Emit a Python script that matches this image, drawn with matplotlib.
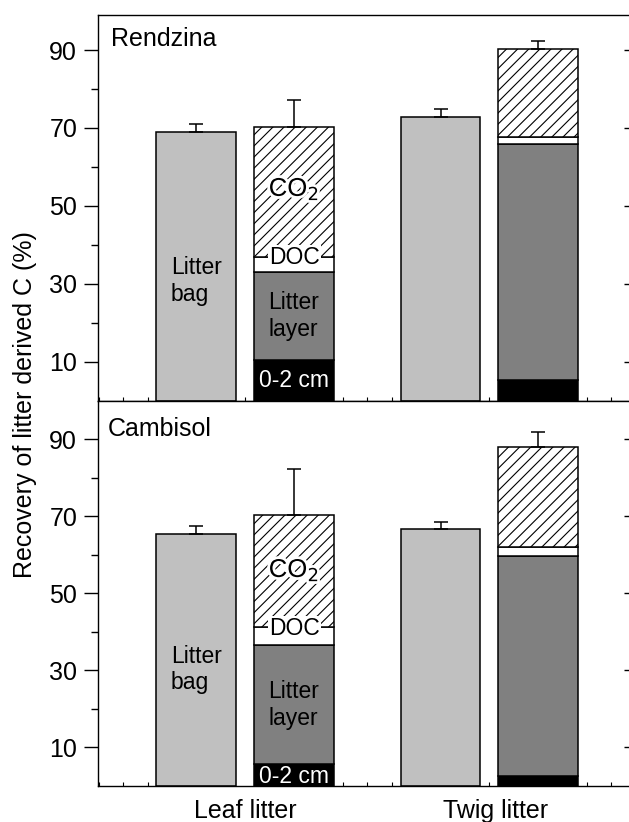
import matplotlib
matplotlib.use("Agg")
import matplotlib.pyplot as plt
import matplotlib.patheffects as pe
from matplotlib.ticker import MultipleLocator, FixedLocator
import numpy as np

plt.rcParams['font.family'] = ['Liberation Sans', 'DejaVu Sans']
plt.rcParams['hatch.linewidth'] = 0.8

# ---------------- data ----------------
litter_types = ['Leaf litter', 'Twig litter']
soils = ['Rendzina', 'Cambisol']

# litter bag recovery (%)
rendzina_bag = [69.0, 72.7]
rendzina_bag_err = [2.0, 2.1]
cambisol_bag = [65.5, 66.6]
cambisol_bag_err = [2.0, 1.9]

# stacked components (segment heights, %)
rendzina_soil = [10.4, 5.3]      # 0-2 cm
rendzina_layer = [22.7, 60.7]    # litter layer
rendzina_doc = [3.9, 1.8]        # DOC
rendzina_co2 = [33.3, 22.4]      # CO2
rendzina_total_err = [6.9, 2.2]

cambisol_soil = [5.7, 2.65]
cambisol_layer = [31.0, 57.0]
cambisol_doc = [4.5, 2.4]
cambisol_co2 = [29.1, 26.0]
cambisol_total_err = [12.0, 3.9]

yticks_major = [10, 30, 50, 70, 90]
yticks_minor = [20, 40, 60, 80]

# ---------------- figure ----------------
W, H = 629, 822
fig = plt.figure(figsize=(W / 100, H / 100), dpi=100)

left = 98 / W
right = 631 / W
ax_top = fig.add_axes([left, 1 - 400.7 / H, right - left, 385.7 / H])
ax_bot = fig.add_axes([left, 1 - 786 / H, right - left, 385.3 / H])

centers = np.array([1.0, 2.0])
off = 0.2
width = 0.327

label_fs = 16.5
axis_fs = 18

# label positions (y, data units) for [top, bottom] panel
pos_bag = [30.7, 30.2]
pos_layer = [21.7, 21.1]
pos_soil = [5.3, 2.4]
pos_co2 = [54.3, 56.0]

panels = [
    (ax_top, soils[0], rendzina_bag, rendzina_bag_err, rendzina_soil, rendzina_layer,
     rendzina_doc, rendzina_co2, rendzina_total_err, 99.0, 0),
    (ax_bot, soils[1], cambisol_bag, cambisol_bag_err, cambisol_soil, cambisol_layer,
     cambisol_doc, cambisol_co2, cambisol_total_err, 100.0, 1),
]

for (ax, soil, bag, bag_err, s02, layer, doc, co2, terr, ytop, k) in panels:
    xb = centers - off
    xs = centers + off
    bag = np.array(bag)
    s02 = np.array(s02); layer = np.array(layer); doc = np.array(doc); co2 = np.array(co2)
    ekw = dict(edgecolor='black', linewidth=1.1, zorder=2)
    ax.bar(xb, bag, width, color='#c0c0c0', **ekw)
    ax.bar(xs, s02, width, color='black', **ekw)
    ax.bar(xs, layer, width, bottom=s02, color='#808080', **ekw)
    ax.bar(xs, doc, width, bottom=s02 + layer, color='white', **ekw)
    ax.bar(xs, co2, width, bottom=s02 + layer + doc, color='white', hatch='///', **ekw)
    total = s02 + layer + doc + co2
    ax.errorbar(xb, bag, yerr=[np.zeros(2), bag_err], fmt='none', ecolor='black',
                elinewidth=1.1, capsize=5, capthick=1.1, zorder=3)
    ax.errorbar(xs, total, yerr=[np.zeros(2), terr], fmt='none', ecolor='black',
                elinewidth=1.1, capsize=5, capthick=1.1, zorder=3)

    # labels within leaf litter bars
    x0b, x0s = xb[0], xs[0]
    ax.text(x0b, pos_bag[k], 'Litter\nbag', ha='center', va='center', multialignment='left',
            fontsize=label_fs, zorder=5, linespacing=1.2)
    ax.text(x0s, pos_layer[k], 'Litter\nlayer', ha='center', va='center',
            multialignment='left', fontsize=label_fs, zorder=5, linespacing=1.2)
    ax.text(x0s, pos_soil[k], '0-2 cm', ha='center', va='center',
            color='white', fontsize=label_fs, zorder=5)
    ax.text(x0s, s02[0] + layer[0] + doc[0] - 0.3, 'DOC', ha='center', va='center',
            fontsize=label_fs, zorder=5,
            bbox=dict(boxstyle='square,pad=0.05', facecolor='white', edgecolor='none'))
    ax.text(x0s, pos_co2[k], 'CO$_2$', ha='center', va='center',
            fontsize=18.5, zorder=5,
            path_effects=[pe.withStroke(linewidth=4, foreground='white')])

    ax.set_xlim(0.397, 2.58)
    ax.set_ylim(0, ytop)

    # y ticks (left, outward)
    ax.yaxis.set_major_locator(FixedLocator(yticks_major))
    ax.yaxis.set_minor_locator(FixedLocator(yticks_minor))
    ax.tick_params(axis='y', which='major', direction='out', length=10, width=1,
                   labelsize=axis_fs, pad=5)
    ax.tick_params(axis='y', which='minor', direction='out', length=5, width=1)

    # right ticks (inward)
    sec = ax.secondary_yaxis('right')
    sec.set_yticks(yticks_major)
    sec.tick_params(axis='y', which='major', direction='in', length=5, width=1,
                    labelright=False)
    sec.spines['right'].set_linewidth(1.0)

    # x ticks
    ax.xaxis.set_minor_locator(MultipleLocator(0.1))
    ax.tick_params(axis='x', which='minor', direction='in', length=3, width=0.8)

    for sp in ax.spines.values():
        sp.set_linewidth(1.0)

    if ax is ax_top:
        ax.set_xticks([])
        ax.xaxis.set_minor_locator(MultipleLocator(0.1))
        ax.text(0.024, (400.7 - 46) / 385.7, soil, transform=ax.transAxes,
                fontsize=axis_fs, ha='left', va='baseline')
    else:
        ax.set_xticks([1.0, 2.027])
        ax.set_xticklabels(litter_types, fontsize=axis_fs)
        ax.tick_params(axis='x', which='major', length=0, pad=9)
        ax.text(0.018, (786 - 436) / 385.3, soil, transform=ax.transAxes,
                fontsize=axis_fs, ha='left', va='baseline')

fig.text(25 / W, 1 - 405 / H, 'Recovery of litter derived C (%)', rotation=90,
         ha='center', va='center', fontsize=axis_fs)

fig.savefig('out.png', dpi=100)
